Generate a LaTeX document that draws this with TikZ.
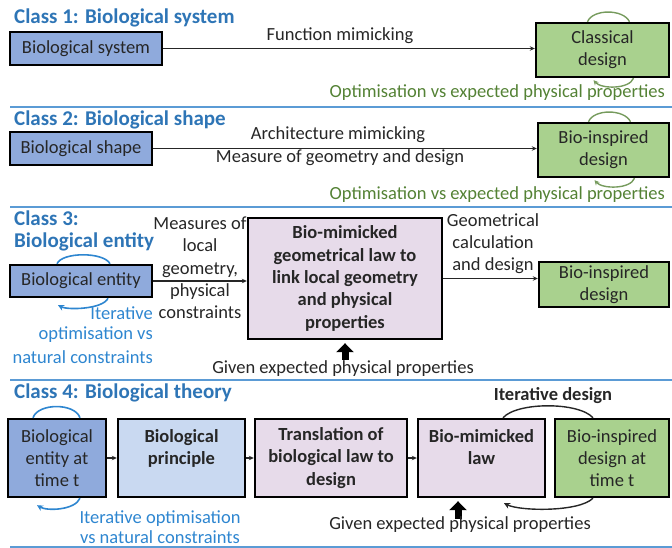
\documentclass[tikz,border=0pt]{standalone}
\usepackage{fontspec}
\setmainfont{Carlito}
\usetikzlibrary{arrows.meta,calc}
\definecolor{titleblue}{HTML}{2E75B6}
\definecolor{sepblue}{HTML}{5B9BD5}
\definecolor{boxblue}{HTML}{8FAADC}
\definecolor{lightblue}{HTML}{C9D9F1}
\definecolor{boxgreen}{HTML}{A9D18E}
\definecolor{boxpurple}{HTML}{E7DBEA}
\definecolor{optgreen}{HTML}{548235}
\definecolor{itblue}{HTML}{2E86D0}
\definecolor{txt}{HTML}{262626}
\newcommand{\bodyf}{\fontsize{18.5}{22.3}\selectfont}
\newcommand{\titlef}{\fontsize{21}{24}\selectfont\bfseries}
\begin{document}
\begin{tikzpicture}[x=1pt,y=-1pt,
  box/.style={draw=black, line width=2.4pt, inner sep=0pt, align=center, font=\bodyf, text=txt},
  bbox/.style={box, font=\bodyf\bfseries},
  conn/.style={line width=1.1pt, draw=txt, -{Stealth[length=5pt,width=4.5pt]}},
  lbl/.style={inner sep=0pt, align=center, font=\bodyf, text=txt},
  ttl/.style={inner sep=0pt, anchor=west, font=\titlef, text=titleblue},
  opt/.style={inner sep=0pt, anchor=east, font=\bodyf, text=optgreen},
  itx/.style={inner sep=0pt, font=\bodyf, text=itblue},
  sep/.style={line width=2.8pt, draw=sepblue},
  garc/.style={line width=1.4pt, draw=optgreen!80},
  barc/.style={line width=1.6pt, draw=itblue},
  karc/.style={line width=1.4pt, draw=txt},
  fat/.style={line width=7pt, draw=black, -{Triangle[width=17pt,length=9pt]}}
]
\useasboundingbox (0,0) rectangle (672,548);

% ---------- Class 1 ----------
\node[ttl] (t1) at (14,18) {Class 1: Biological system};
\node[box, fill=boxblue, minimum width=152pt, minimum height=33pt] (b1) at (86,48.5) {Biological system};
\node[box, fill=boxgreen, minimum width=133pt, minimum height=54pt] (g1) at (602.5,50) {Classical\\design};
\draw[conn] (b1.east) -- (b1.east -| g1.west);
\node[lbl] (l1) at (340,36) {Function mimicking};
\draw[garc] ($(g1.north)+(-15,0)$) .. controls +(5,-13) and +(-6,-13) .. ($(g1.north)+(27,0)$);
\draw[garc, -{Stealth[length=5pt,width=5pt]}] ($(g1.south)+(31,0)$) .. controls +(-4,11) and +(8,9) .. ($(g1.south)+(-9,2)$);
\node[opt] (o1) at (665,93) {Optimisation vs expected physical properties};
\draw[sep] (10,107) -- (672,107);

% ---------- Class 2 ----------
\node[ttl] (t2) at (14,120) {Class 2: Biological shape};
\node[box, fill=boxblue, minimum width=142pt, minimum height=33pt] (b2) at (81,148.5) {Biological shape};
\node[box, fill=boxgreen, minimum width=131pt, minimum height=54pt] (g2) at (603.5,150) {Bio-inspired\\design};
\draw[conn] (b2.east) -- (b2.east -| g2.west);
\node[lbl] (l2a) at (338,135) {Architecture mimicking};
\node[lbl] (l2b) at (340,158) {Measure of geometry and design};
\draw[garc] ($(g2.north)+(-15,0)$) .. controls +(5,-13) and +(-6,-13) .. ($(g2.north)+(27,0)$);
\draw[garc, -{Stealth[length=5pt,width=5pt]}] ($(g2.south)+(31,0)$) .. controls +(-4,11) and +(8,9) .. ($(g2.south)+(-9,2)$);
\node[opt] (o2) at (665,195) {Optimisation vs expected physical properties};
\draw[sep] (10,207) -- (672,207);

% ---------- Class 3 ----------
\node[ttl] (t3a) at (14,218) {Class 3:};
\node[ttl] (t3b) at (14,242) {Biological entity};
\node[box, fill=boxblue, minimum width=142pt, minimum height=32pt] (b3) at (81,281) {Biological entity};
\node[bbox, fill=boxpurple, minimum width=194pt, minimum height=121pt] (p3) at (345,278.5) {Bio-mimicked\\geometrical law to\\link local geometry\\and physical\\properties};
\node[box, fill=boxgreen, minimum width=130pt, minimum height=45pt] (g3) at (604,284.5) {Bio-inspired\\design};
\draw[conn] (b3.east) -- (b3.east -| p3.west);
\draw[conn] (p3.east) -- (p3.east -| g3.west);
\node[lbl] (l3a) at (200,268) {Measures of\\local\\geometry,\\physical\\constraints};
\node[lbl] (l3b) at (493,243.5) {Geometrical\\calculation\\and design};
\draw[barc] ($(b3.north)+(-24,0)$) .. controls +(5,-12) and +(-6,-12) .. ($(b3.north)+(29,0)$);
\draw[barc, -{Stealth[length=6pt,width=6pt]}] ($(b3.south)+(27,0)$) .. controls +(-5,11) and +(10,5) .. ($(b3.south)+(-23,7)$);
\node[itx, anchor=east] (i3a) at (153,313) {Iterative};
\node[itx, anchor=east] (i3b) at (153,335) {optimisation vs};
\node[itx, anchor=east] (i3c) at (153,357) {natural constraints};
\draw[fat] ($(p3.south)+(0,20)$) -- ($(p3.south)+(0,3)$);
\node[lbl] (gv3) at (343,369) {Given expected physical properties};
\draw[sep] (10,380) -- (672,380);

% ---------- Class 4 ----------
\node[ttl] (t4) at (14,393) {Class 4: Biological theory};
\node[box, fill=boxblue, minimum width=98pt, minimum height=78pt] (c1) at (57,458) {Biological\\entity at\\time t};
\node[bbox, fill=lightblue, minimum width=127pt, minimum height=78pt] (c2) at (181.5,458) {Biological\\principle\\~};
\node[bbox, fill=boxpurple, minimum width=152pt, minimum height=78pt] (c3) at (331,458) {Translation of\\biological law to\\design};
\node[bbox, fill=boxpurple, minimum width=127pt, minimum height=78pt] (c4) at (481.5,458) {Bio-mimicked\\law\\~};
\node[box, fill=boxgreen, minimum width=114pt, minimum height=78pt] (c5) at (612,458) {Bio-inspired\\design at\\time t};
\draw[conn] (c1) -- (c2);
\draw[conn] (c2) -- (c3);
\draw[conn] (c3) -- (c4);
\draw[barc] ($(c1.north)+(-24,0)$) .. controls +(5,-15) and +(-5,-15) .. ($(c1.north)+(23,0)$);
\draw[barc, -{Stealth[length=6pt,width=6pt]}] ($(c1.south)+(23,0)$) .. controls +(-5,12) and +(10,6) .. ($(c1.south)+(-20,7)$);
\node[itx, anchor=base] (i4a) at (160,523) {Iterative optimisation};
\node[itx, anchor=base] (i4b) at (160,543) {vs natural constraints};
\draw[karc] ($(c4.north)+(21.5,0)$) .. controls +(14,-16) and +(-14,-16) .. ($(c5.north)+(-19,0)$);
\draw[karc, -{Stealth[length=6pt,width=6pt]}] ($(c5.south)+(-19,0)$) .. controls +(-14,14) and +(16,8) .. ($(c4.south)+(22.5,5)$);
\node[lbl, font=\bodyf\bfseries] (itd) at (553,396) {Iterative design};
\draw[fat] ($(c4.south)+(-23.5,21)$) -- ($(c4.south)+(-23.5,3)$);
\node[lbl] (gv4) at (460,525) {Given expected physical properties};
\draw[sep] (10,547) -- (672,547);
\end{tikzpicture}
\end{document}
